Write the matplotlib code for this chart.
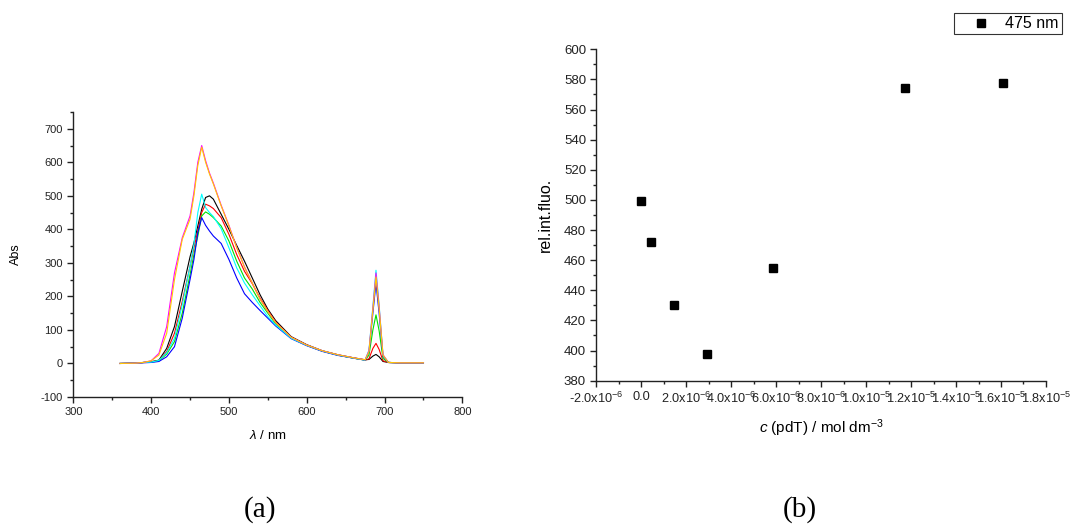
import matplotlib
matplotlib.use("Agg")
import matplotlib.pyplot as plt
from matplotlib.ticker import MultipleLocator, FixedLocator, FixedFormatter

plt.rcParams['font.family'] = ['Liberation Sans', 'DejaVu Sans']
plt.rcParams['mathtext.fontset'] = 'custom'
plt.rcParams['mathtext.rm'] = 'Liberation Sans'
plt.rcParams['mathtext.it'] = 'Liberation Sans:italic'
plt.rcParams['mathtext.bf'] = 'Liberation Sans:bold'
plt.rcParams['axes.unicode_minus'] = False

# ---------------- data: panel (a) spectra ----------------
wavelength = [360, 380, 390, 400, 410, 420, 430, 440, 450, 455, 460, 465, 470, 475,
              480, 490, 500, 510, 520, 530, 540, 550, 560, 580, 600, 620, 640, 660,
              675, 680, 685, 689, 693, 698, 705, 720, 750]

abs_black = [0, 1, 3, 5, 10, 45, 110, 215, 318, 360, 410, 460, 495, 500,
             490, 445, 400, 352, 305, 255, 205, 162, 128, 80, 56, 38, 26, 17,
             11, 12, 22, 27, 20, 6, 3, 2, 2]
abs_red = [0, 1, 3, 5, 9, 35, 90, 185, 290, 345, 395, 450, 475, 470,
           462, 435, 385, 325, 275, 238, 195, 158, 124, 78, 55, 37, 25, 16,
           10, 14, 45, 60, 42, 8, 3, 2, 2]
abs_green = [0, 1, 3, 4, 8, 28, 65, 150, 265, 325, 380, 440, 452, 445,
             435, 410, 365, 305, 255, 222, 182, 150, 118, 76, 54, 37, 25, 16,
             10, 25, 100, 145, 98, 15, 3, 2, 2]
abs_blue = [0, 1, 2, 3, 6, 20, 50, 135, 250, 310, 390, 435, 412, 395,
            380, 358, 310, 255, 208, 182, 158, 135, 112, 74, 53, 36, 24, 16,
            10, 35, 150, 240, 150, 22, 3, 2, 2]
abs_cyan = [0, 1, 3, 4, 9, 32, 75, 175, 290, 355, 450, 505, 465, 450,
            438, 402, 345, 285, 240, 205, 172, 140, 115, 75, 54, 37, 25, 16,
            10, 40, 170, 278, 175, 25, 3, 2, 2]
abs_magenta = [0, 1, 3, 8, 30, 110, 270, 375, 440, 510, 600, 650, 605, 568,
               538, 472, 412, 346, 288, 240, 192, 155, 122, 78, 55, 38, 26, 17,
               11, 38, 165, 270, 170, 26, 3, 2, 2]
abs_yellow = [0, 1, 3, 8, 25, 90, 250, 370, 430, 500, 590, 645, 600, 565,
              535, 470, 410, 345, 287, 240, 192, 155, 122, 78, 55, 38, 26, 17,
              11, 35, 160, 258, 165, 25, 3, 2, 2]

series_a = [
    ("black", abs_black, "#000000"),
    ("red", abs_red, "#FF0000"),
    ("green", abs_green, "#00E000"),
    ("blue", abs_blue, "#0000FF"),
    ("cyan", abs_cyan, "#00FFFF"),
    ("magenta", abs_magenta, "#FF00FF"),
    ("yellow", abs_yellow, "#FFC800"),
]

# ---------------- data: panel (b) ----------------
conc_pdT = [0.0, 0.42e-6, 1.46e-6, 2.91e-6, 5.86e-6, 1.172e-5, 1.609e-5]
rel_int_fluo = [499.5, 472.3, 430.2, 397.9, 454.6, 574.3, 577.4]
series_b_label = "475 nm"

xticks_b = [-2e-6, 0.0, 2e-6, 4e-6, 6e-6, 8e-6, 1.0e-5, 1.2e-5, 1.4e-5, 1.6e-5, 1.8e-5]
xticklabels_b = [r"-2.0x10$^{-6}$", "0.0", r"2.0x10$^{-6}$", r"4.0x10$^{-6}$",
                 r"6.0x10$^{-6}$", r"8.0x10$^{-6}$", r"1.0x10$^{-5}$",
                 r"1.2x10$^{-5}$", r"1.4x10$^{-5}$", r"1.6x10$^{-5}$",
                 r"1.8x10$^{-5}$"]

# ---------------- figure ----------------
fig = plt.figure(figsize=(10.72, 5.25), dpi=100)
ax1 = fig.add_axes([0.0684, 0.2438, 0.3629, 0.5429])
ax2 = fig.add_axes([0.5564, 0.2749, 0.4193, 0.6312])

for ax in (ax1, ax2):
    ax.spines['top'].set_visible(False)
    ax.spines['right'].set_visible(False)
    for s in ('left', 'bottom'):
        ax.spines[s].set_linewidth(1.0)
        ax.spines[s].set_color('#222222')
    ax.tick_params(which='major', direction='out', length=4, width=1.0, color='#222222')
    ax.tick_params(which='minor', direction='out', length=2.5, width=1.0, color='#222222')

# panel (a)
for name, vals, col in series_a:
    ax1.plot(wavelength, vals, color=col, linewidth=0.8)
ax1.set_xlim(300, 800)
ax1.set_ylim(-100, 750)
ax1.xaxis.set_major_locator(MultipleLocator(100))
ax1.xaxis.set_minor_locator(MultipleLocator(50))
ax1.yaxis.set_major_locator(FixedLocator([-100, 0, 100, 200, 300, 400, 500, 600, 700]))
ax1.yaxis.set_minor_locator(MultipleLocator(50))
ax1.tick_params(labelsize=8, colors='#222222')
ax1.set_ylabel("Abs", fontsize=9)
ax1.yaxis.set_label_coords(-0.133, 0.5)
ax1.set_xlabel(r"$\lambda$ / nm", fontsize=9.5)
ax1.xaxis.set_label_coords(0.5, -0.112)

# panel (b)
ax2.plot(conc_pdT, rel_int_fluo, linestyle='none', marker='s', markersize=6,
         color='black', label=series_b_label)
ax2.set_xlim(-2e-6, 1.8e-5)
ax2.set_ylim(380, 600)
ax2.xaxis.set_major_locator(FixedLocator(xticks_b))
ax2.xaxis.set_major_formatter(FixedFormatter(xticklabels_b))
ax2.xaxis.set_minor_locator(MultipleLocator(1e-6))
ax2.yaxis.set_major_locator(MultipleLocator(20))
ax2.yaxis.set_minor_locator(MultipleLocator(10))
ax2.tick_params(axis='y', labelsize=9.5, colors='#222222')
ax2.tick_params(axis='x', labelsize=9.2, colors='#222222')
ax2.set_ylabel("rel.int.fluo.", fontsize=11.5)
ax2.yaxis.set_label_coords(-0.097, 0.5)
ax2.set_xlabel(r"$c$ (pdT) / mol dm$^{-3}$", fontsize=11)
ax2.xaxis.set_label_coords(0.5, -0.11)

leg = fig.legend(loc='upper left', bbox_to_anchor=(954 / 1072, 1 - 13 / 525),
                 frameon=True, fancybox=False, fontsize=11.5, borderaxespad=0,
                 handlelength=3.0, handletextpad=0.0, borderpad=0.2, markerscale=0.85)
leg.get_frame().set_edgecolor('black')
leg.get_frame().set_linewidth(0.8)

fig.text(260 / 1072, 1 - 510 / 525, "(a)", ha='center', va='center',
         family='Liberation Serif', fontsize=21)
fig.text(800 / 1072, 1 - 510 / 525, "(b)", ha='center', va='center',
         family='Liberation Serif', fontsize=21)

fig.savefig("out.png", dpi=100)
